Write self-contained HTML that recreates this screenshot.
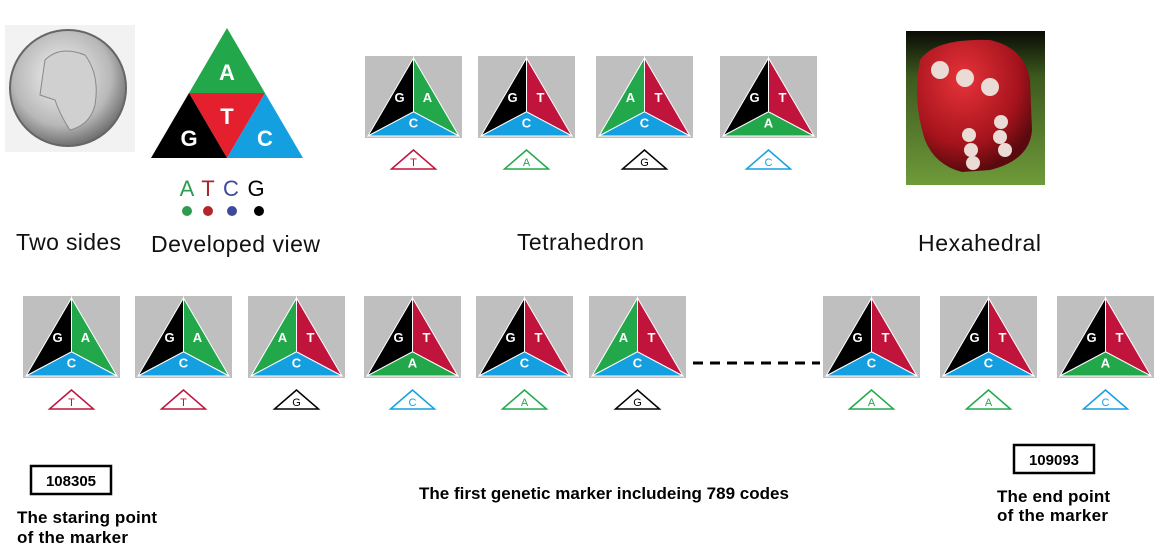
<!DOCTYPE html>
<html><head><meta charset="utf-8"><style>
html,body{margin:0;padding:0;background:#fff;width:1171px;height:560px;overflow:hidden}
svg{display:block}
text{font-family:"Liberation Sans",sans-serif}
</style></head><body>
<svg id="s" width="1171" height="560" viewBox="0 0 1171 560">
<defs>
<radialGradient id="coin" cx="45%" cy="40%" r="60%"><stop offset="0" stop-color="#f4f4f4"/><stop offset="0.7" stop-color="#b8b8b8"/><stop offset="1" stop-color="#707070"/></radialGradient>
<linearGradient id="felt" x1="0" y1="0" x2="0" y2="1"><stop offset="0" stop-color="#0a0a06"/><stop offset="0.3" stop-color="#3d5a1e"/><stop offset="1" stop-color="#6f9a3a"/></linearGradient>
<radialGradient id="die" cx="40%" cy="30%" r="70%"><stop offset="0" stop-color="#e8333a"/><stop offset="0.7" stop-color="#a5131c"/><stop offset="1" stop-color="#5a0a0e"/></radialGradient>
</defs>
<g>
<rect x="5" y="25" width="130" height="127" fill="#f2f2f2"/>
<circle cx="68" cy="88" r="58" fill="url(#coin)" stroke="#666" stroke-width="2"/>
<path d="M45 60 Q60 45 85 55 Q100 75 95 105 Q90 125 70 130 Q60 115 55 100 L40 95 Q42 80 45 60Z" fill="#d0d0d0" stroke="#888"/>
</g>
<g>
<polygon points="227,28 189,93 265,93" fill="#22a84a"/>
<polygon points="189,93 265,93 227,158" fill="#e5202e"/>
<polygon points="189,93 151,158 227,158" fill="#000"/>
<polygon points="265,93 303,158 227,158" fill="#14a0e0"/>
<text x="227" y="80" font-size="22" font-weight="bold" fill="#fff" text-anchor="middle">A</text>
<text x="227" y="124" font-size="22" font-weight="bold" fill="#fff" text-anchor="middle">T</text>
<text x="189" y="146" font-size="22" font-weight="bold" fill="#fff" text-anchor="middle">G</text>
<text x="265" y="146" font-size="22" font-weight="bold" fill="#fff" text-anchor="middle">C</text>
</g>
<g>
<text x="187" y="196" font-size="22" fill="#2f9b4f" text-anchor="middle">A</text>
<text x="208" y="196" font-size="22" fill="#a5282e" text-anchor="middle">T</text>
<text x="231" y="196" font-size="22" fill="#3d4a9c" text-anchor="middle">C</text>
<text x="256" y="196" font-size="22" fill="#000" text-anchor="middle">G</text>
<circle cx="187" cy="211" r="5" fill="#2f9b4f"/><circle cx="208" cy="211" r="5" fill="#b4262c"/><circle cx="232" cy="211" r="5" fill="#3d4a9c"/><circle cx="259" cy="211" r="5" fill="#000"/>
</g>
<g>
<rect x="906" y="31" width="139" height="154" fill="url(#felt)"/>
<path d="M920 60 Q935 38 990 40 Q1025 48 1030 80 L1032 130 Q1030 160 990 170 L962 172 Q935 165 925 140 Q912 100 920 60Z" fill="url(#die)"/>
<g fill="#eadcd4"><circle cx="940" cy="70" r="9"/><circle cx="965" cy="78" r="9"/><circle cx="990" cy="87" r="9"/>
<circle cx="1001" cy="122" r="7"/><circle cx="1000" cy="137" r="7"/><circle cx="1005" cy="150" r="7"/>
<circle cx="969" cy="135" r="7"/><circle cx="971" cy="150" r="7"/><circle cx="973" cy="163" r="7"/></g>
</g>
<g font-size="23" fill="#111">
<text x="16" y="250" textLength="105">Two sides</text>
<text x="151" y="252" textLength="169">Developed view</text>
<text x="517" y="250" textLength="127">Tetrahedron</text>
<text x="918" y="251" textLength="123">Hexahedral</text>
</g>
<g id="tiles"></g>
<line x1="693" y1="363" x2="820" y2="363" stroke="#000" stroke-width="3" stroke-dasharray="10,7"/>
<g>
<rect x="31" y="466" width="80" height="28" fill="#fff" stroke="#000" stroke-width="2.5"/>
<text x="71" y="486" font-size="15" font-weight="bold" text-anchor="middle">108305</text>
<text x="17" y="523" font-size="17" font-weight="bold" textLength="140">The staring point</text>
<text x="17" y="543" font-size="17" font-weight="bold" textLength="111">of the marker</text>
</g>
<g>
<rect x="1014" y="445" width="80" height="28" fill="#fff" stroke="#000" stroke-width="2.5"/>
<text x="1054" y="465" font-size="15" font-weight="bold" text-anchor="middle">109093</text>
<text x="997" y="502" font-size="17" font-weight="bold" textLength="113">The end point</text>
<text x="997" y="521" font-size="17" font-weight="bold" textLength="111">of the marker</text>
</g>
<text x="419" y="499" font-size="17" font-weight="bold" textLength="370">The first genetic marker includeing 789 codes</text>
</svg>
<script>
const topX=[365,478,596,720];
const topFaces=[["G","A","C"],["G","T","C"],["A","T","C"],["G","T","A"]];
const topBottom=["T","A","G","C"];
const botX=[23,135,248,364,476,589,823,940,1057];
const botFaces=[["G","A","C"],["G","A","C"],["A","T","C"],["G","T","A"],["G","T","C"],["A","T","C"],["G","T","C"],["G","T","C"],["G","T","A"]];
const botBottom=["T","T","G","C","A","G","A","A","C"];
const col={A:"#22a84a",T:"#c0143c",C:"#14a0e0",G:"#000"};
const lc={A:"#22a84a",T:"#c0143c",C:"#14a0e0",G:"#000"};
const NS="http://www.w3.org/2000/svg";
const g=document.getElementById("tiles");
function mk(t,a,p){const e=document.createElementNS(NS,t);for(const k in a)e.setAttribute(k,a[k]);(p||g).appendChild(e);return e;}
function tile(x,y,f,b){
  const w=97,h=82;
  const grp=mk("g",{});
  
  
  mk("rect",{x:x,y:y,width:w,height:h,fill:"#bfbfbf"},grp);
  const ax=x+w/2,ay=y+2,lx=x+3,rx=x+w-3,by=y+h-2,cx=x+w/2,cy=y+h*0.68;
  mk("polygon",{points:`${ax},${ay} ${lx},${by} ${cx},${cy}`,fill:col[f[0]],stroke:"#fff","stroke-width":1},grp);
  mk("polygon",{points:`${ax},${ay} ${rx},${by} ${cx},${cy}`,fill:col[f[1]],stroke:"#fff","stroke-width":1},grp);
  mk("polygon",{points:`${lx},${by} ${rx},${by} ${cx},${cy}`,fill:col[f[2]],stroke:"#fff","stroke-width":1},grp);
  const st={"font-size":13,"font-weight":"bold",fill:"#fff","text-anchor":"middle"};
  let t=mk("text",Object.assign({x:cx-14,y:y+h*0.56},st),grp);t.textContent=f[0];
  t=mk("text",Object.assign({x:cx+14,y:y+h*0.56},st),grp);t.textContent=f[1];
  t=mk("text",Object.assign({x:cx,y:y+h*0.87,"font-size":f[2]==="C"?11:13},st),grp);t.textContent=f[2];
  const ly=y+h+12, lxc=x+w/2;
  const lab=mk("g",{});
  
  
  mk("polygon",{points:`${lxc},${ly} ${lxc-22},${ly+19} ${lxc+22},${ly+19}`,fill:"#fff",stroke:lc[b],"stroke-width":1.5},lab);
  t=mk("text",{x:lxc,y:ly+16,"font-size":11,fill:lc[b],"text-anchor":"middle"},lab);t.textContent=b;
}
topX.forEach((x,i)=>tile(x,56,topFaces[i],topBottom[i]));
botX.forEach((x,i)=>tile(x,296,botFaces[i],botBottom[i]));
</script>
</body></html>
